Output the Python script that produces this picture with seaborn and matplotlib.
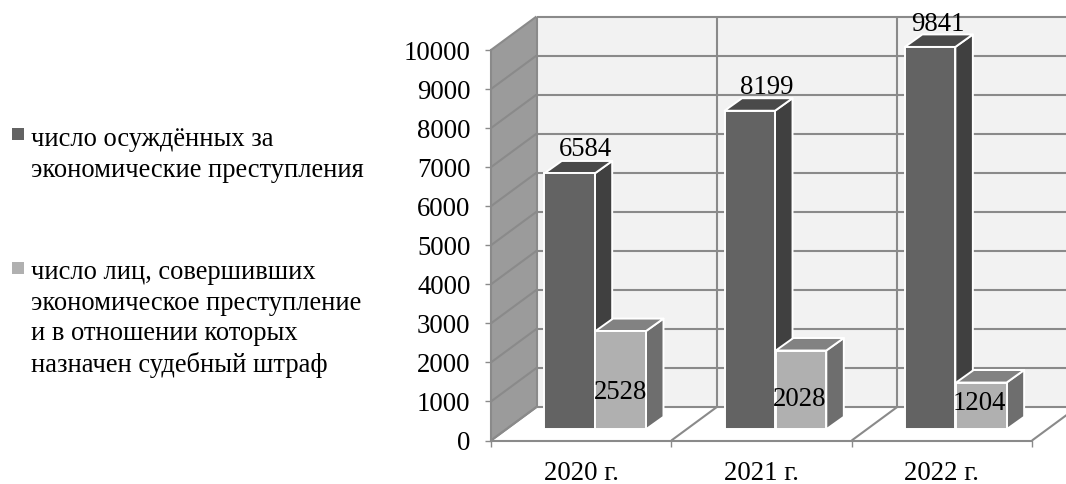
import matplotlib
matplotlib.use("Agg")
import matplotlib.pyplot as plt
import pandas as pd
import seaborn as sns
from matplotlib.patches import Polygon, Rectangle

# ---- data ----
years = ["2020 г.", "2021 г.", "2022 г."]
convicted = [6584, 8199, 9841]
fined = [2528, 2028, 1204]
series_names = [
    "число осуждённых за\nэкономические преступления",
    "число лиц, совершивших\nэкономическое преступление\nи в отношении которых\nназначен судебный штраф",
]
y_ticks = list(range(0, 11000, 1000))

# ---- style ----
W, H = 1066, 484
FONT = "Liberation Serif"
GRID = "#8a8a8a"
FRONT = ["#636363", "#b0b0b0"]
SIDE = ["#404040", "#6e6e6e"]
TOP = ["#4a4a4a", "#828282"]

sns.set_theme(style="white")
plt.rcParams["font.family"] = [FONT, "DejaVu Sans"]

fig = plt.figure(figsize=(W / 100, H / 100), dpi=100)
ax = fig.add_axes([491 / W, 1 - 440.5 / H, (1032 - 491) / W, 390.5 / H])
ax.patch.set_alpha(0)

PX_X = (1032 - 491) / 3          # pixels per category
PX_Y = 390.5 / 10000             # pixels per unit
WALL_DX, WALL_DY = 45.5 / PX_X, 33.5 / PX_Y
BAR_DX, BAR_DY = 17.5 / PX_X, 12.5 / PX_Y
BAR_BASE = 11.2 / PX_Y
BAR_SHIFT = 0.075
BAR_SCALE = 0.995
LIGHT_SHIFT = 0.8 / PX_X

df = pd.DataFrame({
    "year": years * 2,
    "value": convicted + fined,
    "series": [series_names[0]] * 3 + [series_names[1]] * 3,
})
sns.barplot(
    data=df, x="year", y="value", hue="series", palette=FRONT, saturation=1,
    width=0.56, gap=0, dodge=True, legend=False, ax=ax, bottom=BAR_BASE,
    edgecolor="white", linewidth=1.4,
)
ax.set_xlim(-0.5, 2.5)
ax.set_ylim(0, 10000)
ax.set_xlabel("")
ax.set_ylabel("")

# ---- walls and floor of the box ----
x0, x1 = -0.5, 2.5
top_val = y_ticks[-1]
ax.add_patch(Rectangle((x0 + WALL_DX, WALL_DY), x1 - x0, top_val, fc="#f2f2f2", ec="none",
                       zorder=0.5, clip_on=False))
ax.add_patch(Polygon([(x0, 0), (x0 + WALL_DX, WALL_DY), (x0 + WALL_DX, top_val + WALL_DY), (x0, top_val)],
                     fc="#9b9b9b", ec="none", zorder=0.6, clip_on=False))
ax.add_patch(Polygon([(x0, 0), (x1, 0), (x1 + WALL_DX, WALL_DY), (x0 + WALL_DX, WALL_DY)],
                     fc="white", ec="none", zorder=0.6, clip_on=False))
line = dict(color=GRID, lw=1.5, zorder=1, clip_on=False, solid_capstyle="butt")
for v in y_ticks:
    ax.plot([x0 + WALL_DX, x1 + WALL_DX], [v + WALL_DY] * 2, **line)
    ax.plot([x0, x0 + WALL_DX], [v, v + WALL_DY], **line)
for b in [x0 + i for i in range(4)]:
    ax.plot([b + WALL_DX] * 2, [WALL_DY, top_val + WALL_DY], **line)
    ax.plot([b, b + WALL_DX], [0, WALL_DY], **line)

# ---- 3-D faces of the bars ----
for i, p in enumerate(ax.patches[:6]):
    s = i // 3
    p.set_x(p.get_x() + BAR_SHIFT + (LIGHT_SHIFT if s else 0))
    p.set_height(p.get_height() * BAR_SCALE)
    p.set_zorder(3 + 2 * s + 1)
    l, r = p.get_x(), p.get_x() + p.get_width()
    b, t = p.get_y(), p.get_y() + p.get_height()
    kw = dict(ec="white", lw=1.4, zorder=3 + 2 * s, joinstyle="round", clip_on=False)
    ax.add_patch(Polygon([(r, b), (r + BAR_DX, b + BAR_DY), (r + BAR_DX, t + BAR_DY), (r, t)], fc=SIDE[s], **kw))
    ax.add_patch(Polygon([(l, t), (r, t), (r + BAR_DX, t + BAR_DY), (l + BAR_DX, t + BAR_DY)], fc=TOP[s], **kw))
    p.set_clip_on(False)

# ---- value labels (offsets in px from the front top centre of each bar) ----
label_offsets = [(16, 17), (17, 17), (8, 16), (0, -68), (-1, -55), (-2, -27)]
for p, v, (ox, oy) in zip(ax.patches[:6], convicted + fined, label_offsets):
    ax.annotate(str(v), (p.get_x() + p.get_width() / 2, p.get_y() + p.get_height()),
                xytext=(ox * 0.72, oy * 0.72), textcoords="offset points",
                ha="center", va="baseline", fontsize=19.3, color="black", zorder=10,
                annotation_clip=False, family=FONT)

# ---- axes ----
sns.despine(ax=ax, top=True, right=True)
for side in ("left", "bottom"):
    ax.spines[side].set_color(GRID)
    ax.spines[side].set_linewidth(1.5)
    ax.spines[side].set_zorder(2)
ax.set_yticks(y_ticks)
ax.tick_params(axis="y", length=4.3, width=1, color=GRID, labelsize=19.3, labelcolor="black", pad=10.5, left=True)
ax.set_xticks(range(3), years)
ax.set_xticks([x0 + i for i in range(4)], minor=True)
ax.tick_params(axis="x", which="major", length=0, labelsize=19.3, labelcolor="black", pad=14.6)
ax.tick_params(axis="x", which="minor", length=4.5, width=1, color=GRID, bottom=True)

# ---- legend drawn as text with square keys (y of the last baseline of each block) ----
entries = [(128.3, 177, series_names[0]), (261.7, 372, series_names[1])]
for (sq_y, base_y, txt), col in zip(entries, FRONT):
    fig.add_artist(Rectangle((12.3 / W, 1 - (sq_y + 12) / H), 12 / W, 12 / H,
                             transform=fig.transFigure, fc=col, ec="none"))
    fig.text(30.7 / W, 1 - base_y / H, txt, fontsize=19.1, va="baseline", ha="left",
             color="black", linespacing=1.29, family=FONT)

fig.savefig("out.png", dpi=100)
